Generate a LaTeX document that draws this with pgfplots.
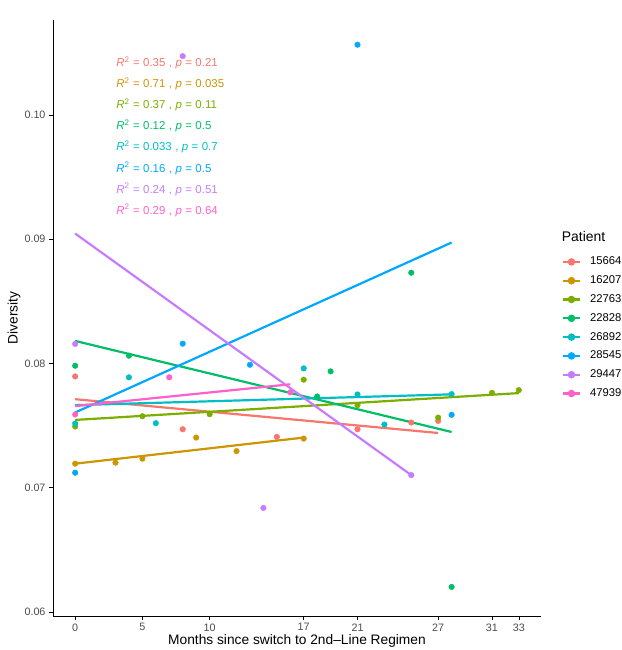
\documentclass[border=0pt]{standalone}
\usepackage{fontspec}
\setmainfont{Liberation Sans}
\usepackage{pgfplots}
\pgfplotsset{compat=1.18}
\definecolor{cA}{HTML}{F8766D}
\definecolor{cB}{HTML}{CD9600}
\definecolor{cC}{HTML}{7CAE00}
\definecolor{cD}{HTML}{00BE67}
\definecolor{cE}{HTML}{00BFC4}
\definecolor{cF}{HTML}{00A9FF}
\definecolor{cG}{HTML}{C77CFF}
\definecolor{cH}{HTML}{FF61CC}
\definecolor{tickgray}{HTML}{4D4D4D}
\newcommand{\ann}[2]{\textit{R}\textsuperscript{2}\hspace{0.3em}=\hspace{0.3em}#1\hspace{0.3em},\hspace{0.3em}\textit{p}\hspace{0.3em}=\hspace{0.3em}#2}
\begin{document}
\begin{tikzpicture}[x=1bp,y=1bp]
\useasboundingbox (-53,-34) rectangle (569,616);
\begin{axis}[
  at={(0,0)}, anchor=south west,
  width=488bp, height=596bp, scale only axis,
  xmin=-1.65, xmax=34.65, ymin=0.05968, ymax=0.10765,
  axis lines=left,
  axis line style={-, black, line width=0.8bp},
  xtick={0,5,10,17,21,27,31,33},
  ytick={0.06,0.07,0.08,0.09,0.10},
  yticklabel style={/pgf/number format/.cd, fixed, fixed zerofill, precision=2},
  /pgf/number format/assume math mode=true,
  scaled y ticks=false,
  tick align=outside,
  major tick length=4bp,
  tick style={black, line width=0.6bp},
  ticklabel style={font=\fontsize{10.8}{12}\selectfont, text=tickgray},
  xlabel={Months since switch to 2nd\textendash Line Regimen},
  ylabel={Diversity},
  label style={font=\fontsize{13.8}{15}\selectfont},
  xlabel style={at={(axis description cs:0.5,-0.0425)}, anchor=center},
  ylabel style={at={(axis description cs:-0.0799,0.5)}, anchor=center, rotate=0},
  clip=false,
  legend style={at={(rel axis cs:1.0424,0.6102)}, anchor=north west, draw=none, fill=none,
    inner sep=0pt, font=\fontsize{11.3}{12}\selectfont,
    nodes={inner ysep=4.4bp, inner xsep=1bp, text height=8bp, text depth=2bp},
    /tikz/every odd column/.append style={column sep=8bp}},
  legend cell align=left,
  legend image code/.code={\draw[#1, line width=2.2bp] (0bp,0bp) -- (17bp,0bp); \fill[#1] (8.5bp,0bp) circle (2.6bp);},
]
\pgfplotsset{pts/.style={only marks, mark=*, mark size=2.8bp, color=#1, mark options={draw=#1, fill=#1}, forget plot}}
% points
\addplot[pts=cA] coordinates {(0,0.07896)(8,0.07471)(15,0.07409)(21,0.07471)(25,0.07525)(27,0.07538)};
\addplot[pts=cB] coordinates {(0,0.07194)(3,0.07202)(5,0.07234)(9,0.07404)(12,0.07295)(17,0.07396)};
\addplot[pts=cC] coordinates {(0,0.07493)(5,0.07576)(10,0.07592)(17,0.0787)(21,0.07665)(27,0.07565)(31,0.07764)(33,0.07786)};
\addplot[pts=cD] coordinates {(0,0.07982)(4,0.08063)(18,0.07735)(19,0.07937)(25,0.08731)(28,0.06202)};
\addplot[pts=cE] coordinates {(0,0.07517)(4,0.07889)(6,0.0752)(17,0.07961)(21,0.07751)(23,0.07509)(28,0.07754)};
\addplot[pts=cF] coordinates {(0,0.07121)(8,0.0816)(13,0.0799)(21,0.10566)(28,0.07587)};
\addplot[pts=cG] coordinates {(0,0.08158)(8,0.10474)(14,0.06838)(25,0.07102)};
\addplot[pts=cH] coordinates {(0,0.0759)(7,0.07889)(16,0.07768)};
% fit lines
\addplot[cA, line width=2.2bp] coordinates {(0,0.07713)(27,0.07441)}; \addlegendentry{15664}
\addplot[cB, line width=2.2bp] coordinates {(0,0.07194)(17,0.07404)}; \addlegendentry{16207}
\addplot[cC, line width=2.2bp] coordinates {(0,0.07546)(33,0.07762)}; \addlegendentry{22763}
\addplot[cD, line width=2.2bp] coordinates {(0,0.08182)(28,0.07449)}; \addlegendentry{22828}
\addplot[cE, line width=2.2bp] coordinates {(0,0.07665)(28,0.07752)}; \addlegendentry{26892}
\addplot[cF, line width=2.2bp] coordinates {(0,0.07606)(28,0.08974)}; \addlegendentry{28545}
\addplot[cG, line width=2.2bp] coordinates {(0,0.09046)(25,0.07102)}; \addlegendentry{29447}
\addplot[cH, line width=2.2bp] coordinates {(0,0.07657)(16,0.07833)}; \addlegendentry{47939}
% annotations
\begin{scope}[every node/.style={anchor=base west, inner sep=0pt, font=\fontsize{11.5}{12}\selectfont}]
\node[text=cA] at (axis cs:3.05,0.10390) {\ann{0.35}{0.21}};
\node[text=cB] at (axis cs:3.05,0.10220) {\ann{0.71}{0.035}};
\node[text=cC] at (axis cs:3.05,0.10051) {\ann{0.37}{0.11}};
\node[text=cD] at (axis cs:3.05,0.09881) {\ann{0.12}{0.5}};
\node[text=cE] at (axis cs:3.05,0.09711) {\ann{0.033}{0.7}};
\node[text=cF] at (axis cs:3.05,0.09541) {\ann{0.16}{0.5}};
\node[text=cG] at (axis cs:3.05,0.09371) {\ann{0.24}{0.51}};
\node[text=cH] at (axis cs:3.05,0.09202) {\ann{0.29}{0.64}};
\end{scope}
\node[anchor=west, inner sep=0pt, font=\fontsize{14}{15}\selectfont] at (rel axis cs:1.0424,0.6364) {Patient};
\end{axis}
\end{tikzpicture}
\end{document}
